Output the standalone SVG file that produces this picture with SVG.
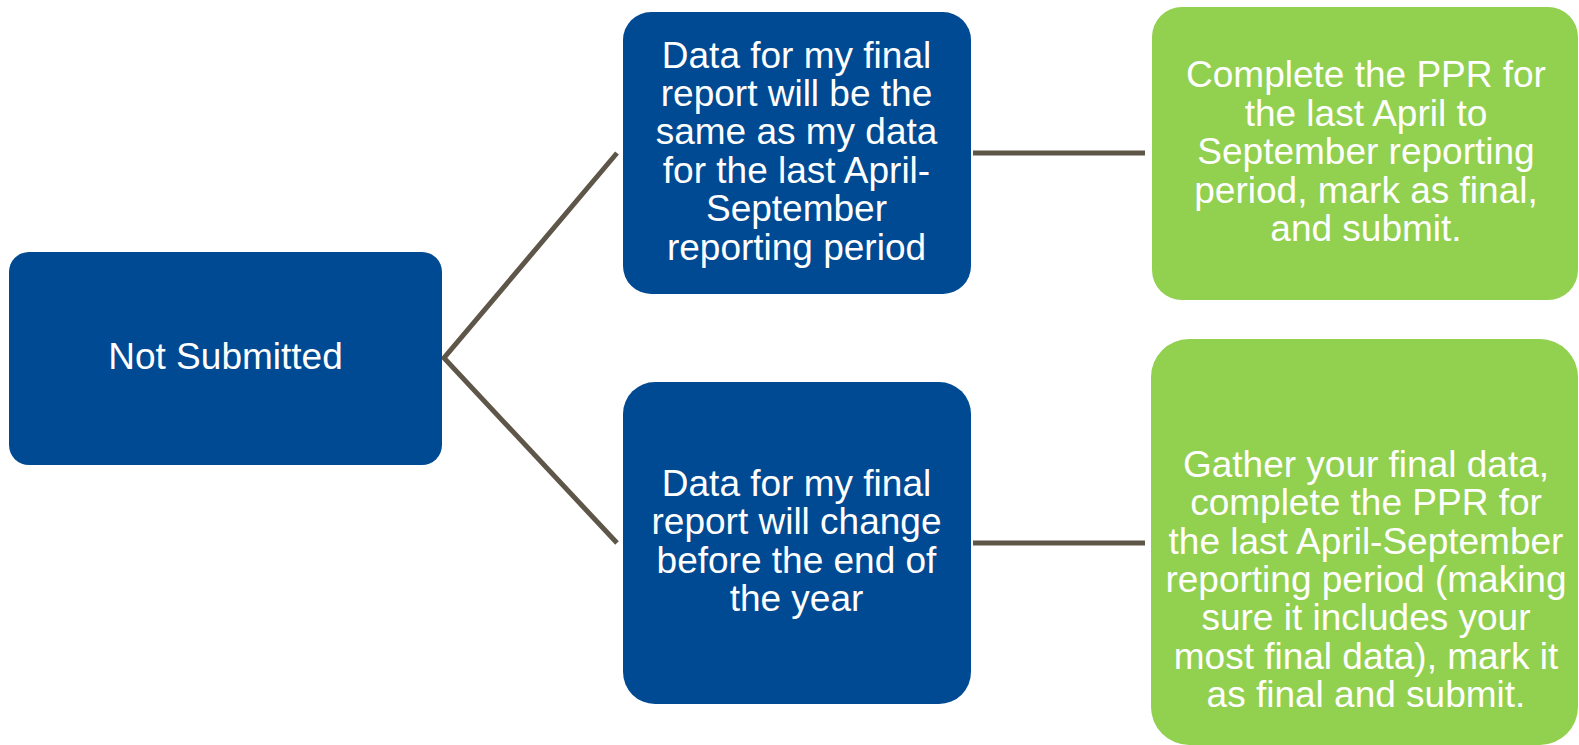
<svg xmlns="http://www.w3.org/2000/svg" width="1579" height="745" viewBox="0 0 1579 745">
<style>
.blue{fill:#004a93}
.green{fill:#92d050}
.t{font-family:"Liberation Sans",Arial,sans-serif;font-size:37px;fill:#ffffff;text-anchor:middle}
.c{fill:none;stroke:#5e5649;stroke-width:5;stroke-linejoin:miter}
</style>
<rect width="1579" height="745" fill="#ffffff"/>
<g id="connectors">
<path class="c" d="M617,153 L444,358 L617,543"/>
<line class="c" x1="973" y1="153" x2="1145" y2="153"/>
<line class="c" x1="973" y1="543" x2="1145" y2="543"/>
</g>
<g id="node-not-submitted">
<rect class="blue" x="9" y="252" width="433" height="213" rx="20"/>
<text class="t" x="225.5" y="369">Not Submitted</text>
</g>
<g id="node-same-data">
<rect class="blue" x="623" y="12" width="348" height="282" rx="28"/>
<text class="t"><tspan x="796.5" y="67.5">Data for my final</tspan><tspan x="796.5" y="105.9">report will be the</tspan><tspan x="796.5" y="144.3">same as my data</tspan><tspan x="796.5" y="182.7">for the last April-</tspan><tspan x="796.5" y="221.1">September</tspan><tspan x="796.5" y="259.5">reporting period</tspan></text>
</g>
<g id="node-data-change">
<rect class="blue" x="623" y="382" width="348" height="322" rx="32"/>
<text class="t"><tspan x="796.5" y="496">Data for my final</tspan><tspan x="796.5" y="534.4">report will change</tspan><tspan x="796.5" y="572.8">before the end of</tspan><tspan x="796.5" y="611.2">the year</tspan></text>
</g>
<g id="node-complete-ppr">
<rect class="green" x="1152" y="7" width="426" height="293" rx="30"/>
<text class="t"><tspan x="1366" y="87.3">Complete the PPR for</tspan><tspan x="1366" y="125.7">the last April to</tspan><tspan x="1366" y="164.1">September reporting</tspan><tspan x="1366" y="202.5">period, mark as final,</tspan><tspan x="1366" y="240.9">and submit.</tspan></text>
</g>
<g id="node-gather-data">
<rect class="green" x="1151" y="339" width="427" height="406" rx="38"/>
<text class="t"><tspan x="1366" y="476.7">Gather your final data,</tspan><tspan x="1366" y="515.1">complete the PPR for</tspan><tspan x="1366" y="553.5">the last April-September</tspan><tspan x="1366" y="591.9">reporting period (making</tspan><tspan x="1366" y="630.3">sure it includes your</tspan><tspan x="1366" y="668.7">most final data), mark it</tspan><tspan x="1366" y="707.1">as final and submit.</tspan></text>
</g>
</svg>
